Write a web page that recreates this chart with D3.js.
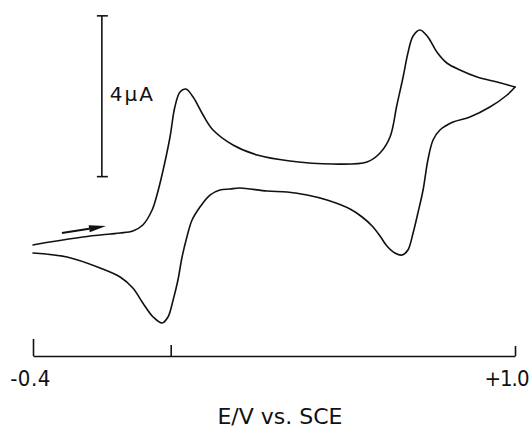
<!DOCTYPE html>
<html>
<head>
<meta charset="utf-8">
<script src="https://cdn.jsdelivr.net/npm/d3@7"></script>
<style>
  html, body { margin: 0; padding: 0; background: #fff; }
  svg { display: block; }
  text { font-family: "DejaVu Sans", sans-serif; fill: #111; }
</style>
</head>
<body>
<svg id="chart" width="529" height="428"></svg>
<script>
// Cyclic voltammogram: potential E (V vs. SCE) and current I (µA), anodic up.
// Forward scan, -0.4 V -> +1.0 V
const forwardE = [-0.400, -0.351, -0.255, -0.176, -0.147, -0.110, -0.081, -0.054, -0.040, -0.022,
                  -0.002, 0.012, 0.027, 0.044, 0.065, 0.094, 0.123, 0.181, 0.251, 0.346,
                  0.471, 0.570, 0.608, 0.637, 0.657, 0.675, 0.689, 0.704, 0.724, 0.747,
                  0.773, 0.802, 0.840, 0.890, 0.948, 1.000];
const forwardI = [0.100, 0.174, 0.299, 0.373, 0.398, 0.448, 0.597, 0.970, 1.343, 1.965,
                  2.786, 3.532, 3.905, 3.980, 3.781, 3.333, 2.960, 2.587, 2.338, 2.189,
                  2.114, 2.164, 2.388, 2.786, 3.582, 4.279, 4.876, 5.299, 5.448, 5.274,
                  4.900, 4.627, 4.453, 4.279, 4.154, 4.030];

// Reverse scan, +1.0 V -> -0.4 V
const reverseE = [1.000, 0.977, 0.927, 0.869, 0.820, 0.782, 0.762, 0.747, 0.733, 0.718,
                  0.704, 0.689, 0.672, 0.651, 0.628, 0.608, 0.585, 0.556, 0.521, 0.454,
                  0.396, 0.338, 0.280, 0.201, 0.172, 0.143, 0.114, 0.085, 0.062, 0.047,
                  0.033, 0.021, 0.007, -0.008, -0.025, -0.051, -0.081, -0.110, -0.147, -0.205,
                  -0.301, -0.400];
const reverseI = [4.030, 3.831, 3.532, 3.284, 3.159, 2.960, 2.711, 2.214, 1.468, 0.896,
                  0.398, -0.025, -0.149, -0.100, 0.075, 0.323, 0.572, 0.796, 0.995, 1.219,
                  1.343, 1.418, 1.443, 1.517, 1.493, 1.468, 1.343, 1.045, 0.721, 0.299,
                  -0.199, -0.771, -1.269, -1.692, -1.841, -1.692, -1.343, -0.970, -0.697, -0.473,
                  -0.199, -0.100];

// Axis ticks and labels
const tickValues = [-0.4, 0.0, 1.0];
const tickLabels = ["-0.4", "", "+1.0"];
const axisTitle = "E/V vs. SCE";

// Current scale bar
const scaleBarE = -0.2;
const scaleBarFrom = 1.8;
const scaleBarSpan = 4;
const scaleBarLabel = "4\u03bcA";

// Scan direction arrow
const arrowE = [-0.316, -0.188];
const arrowI = [0.398, 0.572];

const svg = d3.select("#chart");

const x = d3.scaleLinear().domain([-0.4, 1.0]).range([33, 515]);
const y = d3.scaleLinear().domain([-2.5, 6]).range([249 + 2.5 * 40.2, 249 - 6 * 40.2]);

const line = d3.line()
  .x(d => x(d[0]))
  .y(d => y(d[1]))
  .curve(d3.curveCatmullRom.alpha(0.5));

const fwd = forwardE.map((e, i) => [e, forwardI[i]]);
const rev = reverseE.map((e, i) => [e, reverseI[i]]);

svg.selectAll("path.cv")
  .data([fwd, rev])
  .join("path")
  .attr("class", "cv")
  .attr("d", line)
  .attr("fill", "none")
  .attr("stroke", "#111")
  .attr("stroke-width", 1.6)
  .attr("stroke-linejoin", "round")
  .attr("stroke-linecap", "round");

// Potential axis
const axis = d3.axisBottom(x)
  .tickValues(tickValues)
  .tickSize(-11)
  .tickSizeOuter(0)
  .tickFormat((d, i) => tickLabels[i]);

const gAxis = svg.append("g")
  .attr("transform", "translate(0,356)")
  .call(axis);

gAxis.select(".domain").attr("stroke", "#111").attr("stroke-width", 1.6);
gAxis.selectAll(".tick line")
  .attr("stroke", "#111")
  .attr("stroke-width", 1.6)
  .attr("y2", d => d === -0.4 ? -17 : d === 1.0 ? -10 : -11);
gAxis.selectAll(".tick text")
  .attr("y", 30)
  .attr("dy", null)
  .attr("text-anchor", d => d === 1.0 ? "end" : "middle")
  .attr("dx", d => d === 1.0 ? 13 : -3)
  .style("font-family", "'DejaVu Sans Condensed', 'DejaVu Sans', sans-serif")
  .style("font-size", "22px")
  .style("letter-spacing", d => d === 1.0 ? "-1px" : "0.5px")
  .style("fill", "#111");

svg.append("text")
  .attr("x", (x(-0.4) + x(1.0)) / 2 + 6)
  .attr("y", 424)
  .attr("text-anchor", "middle")
  .style("font-size", "22px")
  .text(axisTitle);

// Current scale bar
const sbX = x(scaleBarE);
const sbTop = y(scaleBarFrom + scaleBarSpan);
const sbBot = y(scaleBarFrom);
const sb = svg.append("g").attr("stroke", "#111").attr("stroke-width", 1.6);
sb.append("line").attr("x1", sbX).attr("x2", sbX).attr("y1", sbTop).attr("y2", sbBot);
sb.append("line").attr("x1", sbX - 5).attr("x2", sbX + 6).attr("y1", sbTop).attr("y2", sbTop);
sb.append("line").attr("x1", sbX - 5).attr("x2", sbX + 6).attr("y1", sbBot).attr("y2", sbBot);
svg.append("text")
  .attr("x", sbX + 8)
  .attr("y", 101)
  .style("font-size", "20px")
  .style("letter-spacing", "2px")
  .text(scaleBarLabel);

// Scan direction arrow
const ax0 = x(arrowE[0]), ay0 = y(arrowI[0]);
const ax1 = x(arrowE[1]), ay1 = y(arrowI[1]);
const ang = Math.atan2(ay1 - ay0, ax1 - ax0);
const headLen = 17, headHalf = 3.5;
const bx = ax1 - headLen * Math.cos(ang), by = ay1 - headLen * Math.sin(ang);
svg.append("line")
  .attr("x1", ax0).attr("y1", ay0).attr("x2", bx).attr("y2", by)
  .attr("stroke", "#111").attr("stroke-width", 2);
svg.append("path")
  .attr("d", d3.line()([
    [ax1, ay1],
    [bx - headHalf * Math.sin(ang), by + headHalf * Math.cos(ang)],
    [bx + headHalf * Math.sin(ang), by - headHalf * Math.cos(ang)]
  ]) + "Z")
  .attr("fill", "#111");
</script>
</body>
</html>
